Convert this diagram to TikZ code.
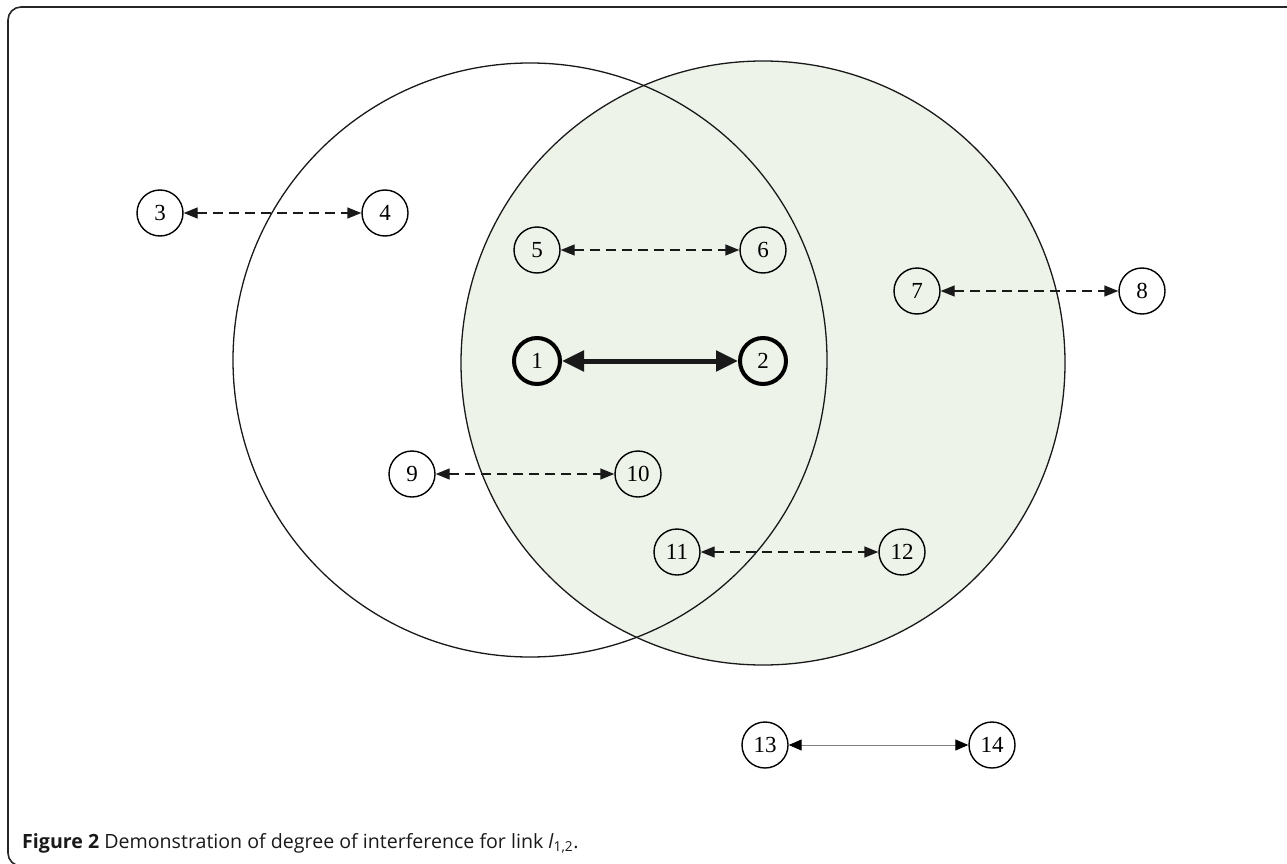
\documentclass[tikz,border=0pt]{standalone}
\usepackage{fontspec}
\setmainfont{Liberation Serif}
\newfontfamily\capfont{Open Sans}
\usetikzlibrary{arrows.meta}
\definecolor{zonegreen}{RGB}{237,243,233}

\begin{document}
\begin{tikzpicture}[x=1pt,y=-1pt]
\useasboundingbox (0,0) rectangle (1287,864);
% frame
\draw[line width=1.6pt,black!85,rounded corners=13pt] (1290,7) -- (8,7) -- (8,866) -- (24,866);
% interference ranges
\fill[zonegreen] (763,363) circle (302pt);
\draw[line width=1.3pt,black!90] (530,360) circle (297pt);
\draw[line width=1.3pt,black!90] (763,363) circle (302pt);
\begin{scope}[every node/.style={circle,draw,line width=1.4pt,minimum size=46pt,inner sep=0pt,
              font=\fontsize{23}{23}\selectfont}]
    \node (v3) at (160,213) {3};
    \node (v4) at (385,213) {4};
    \node (v5) at (537,250) {5};
    \node (v6) at (763,250) {6};
    \node (v7) at (917,291) {7};
    \node (v8) at (1142,291) {8};
    \node[line width=4pt] (v1) at (537,361) {1};
    \node[line width=4pt] (v2) at (763,361) {2};
    \node (v9) at (412,474) {9};
    \node (v10) at (638,474) {10};
    \node (v11) at (677,552) {11};
    \node (v12) at (902,552) {12};
    \node (v13) at (765,745) {13};
    \node (v14) at (992,745) {14};
\end{scope}
\begin{scope}[every edge/.style={draw=black!90,line width=1.4pt,dash pattern=on 10pt off 6pt,
              {Triangle[length=14pt,width=11pt]}-{Triangle[length=14pt,width=11pt]}}]
    \path (v3) edge (v4);
    \path (v5) edge (v6);
    \path (v7) edge (v8);
    \path (v9) edge (v10);
    \path (v11) edge (v12);
\end{scope}
\draw[line width=5pt,black!90,{Triangle[length=22pt,width=20pt]}-{Triangle[length=22pt,width=20pt]}] (v1) -- (v2);
\draw[line width=1pt,black!50,{Triangle[length=13pt,width=11pt,black]}-{Triangle[length=13pt,width=11pt,black]}] (v13) -- (v14);
% caption
\node[anchor=base west,inner sep=0pt,font=\capfont\fontsize{19.6}{21}\selectfont,text=black!90] (cap) at (22,848)
    {\textbf{Figure 2} Demonstration of degree of interference for link \textit{l}\textsubscript{1,2}.};
\end{tikzpicture}
\end{document}
